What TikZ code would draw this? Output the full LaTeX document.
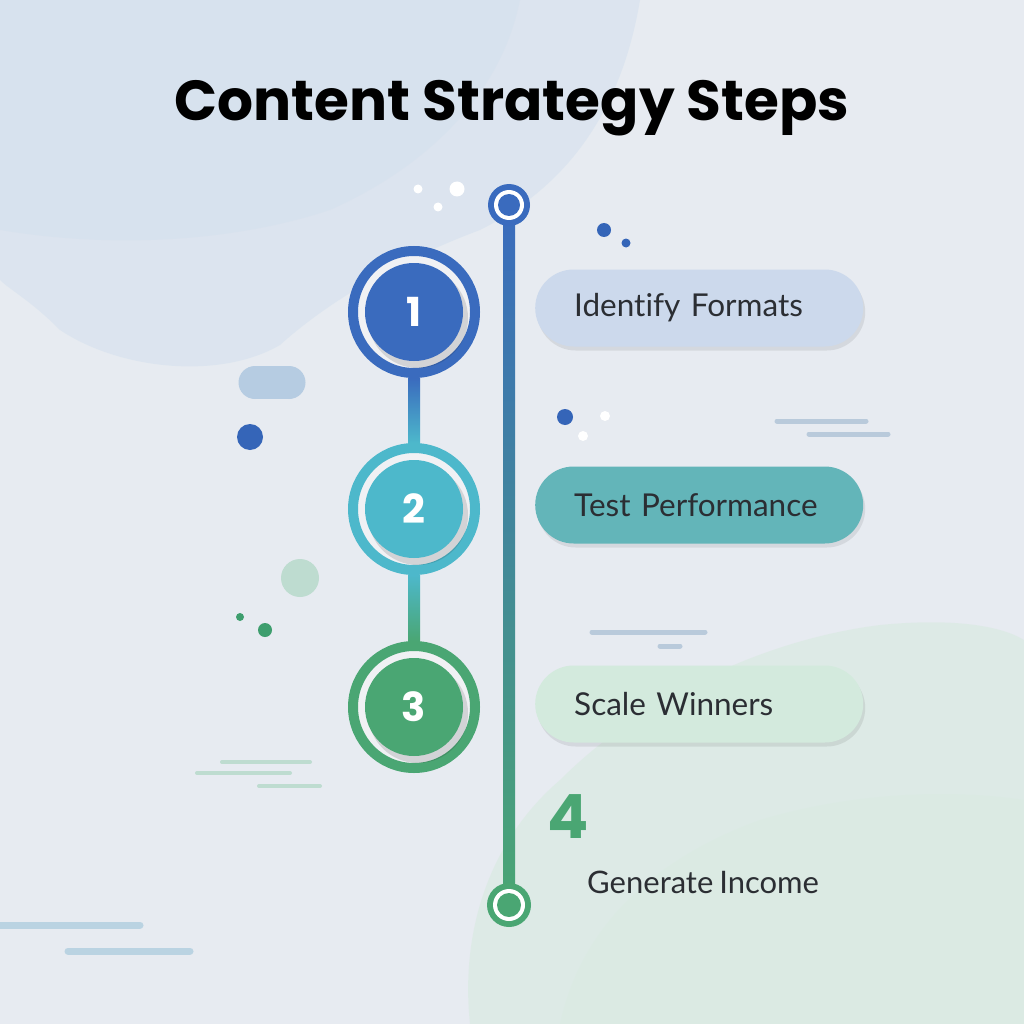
\documentclass[tikz,border=0pt]{standalone}
\usepackage{fontspec}
\setmainfont{Lato}[Ligatures=NoCommon, WordSpace=0.75]
\newfontfamily\popfont{Poppins}
\usetikzlibrary{shadows}
\definecolor{bg}{HTML}{E7EBF1}
\definecolor{bluewash}{HTML}{D3E0EE}
\definecolor{greenwash}{HTML}{DAEAE2}
\definecolor{cA}{HTML}{3A6BBE}
\definecolor{cB}{HTML}{4DB8CB}
\definecolor{cC}{HTML}{4AA673}
\definecolor{lineMid}{HTML}{52AACB}
\definecolor{pA}{HTML}{CCD9EC}
\definecolor{pB}{HTML}{63B5B9}
\definecolor{pC}{HTML}{D3EADD}
\definecolor{txt}{HTML}{2B2E33}
\definecolor{ringfill}{HTML}{F0F1F4}
\definecolor{decoblue}{HTML}{B6CCE2}
\definecolor{decoline}{HTML}{B9CADB}
\definecolor{decogreen}{HTML}{BEDCD0}
\definecolor{dotgreen}{HTML}{3E9E6E}
\definecolor{dotblue}{HTML}{3565B8}
\definecolor{bottomline}{HTML}{BAD3E2}
\tikzset{
  ringnode/.style={circle, minimum size=122pt, line width=10pt, fill=ringfill, inner sep=0pt},
  discnode/.style={circle, minimum size=98pt, inner sep=0pt, text=white, font=\popfont\bfseries\fontsize{40}{40}\selectfont},
  pillnode/.style={anchor=west, align=left, text width=250pt, inner xsep=39pt, minimum height=77pt, rounded corners=38.5pt, text=txt, font=\fontsize{31.5}{34}\selectfont,
    drop shadow={shadow xshift=2pt, shadow yshift=-4pt, opacity=0.08, fill=black}},
  decostroke/.style={line width=5pt, line cap=round},
}
\begin{document}
\begin{tikzpicture}[x=1pt,y=-1pt]
\useasboundingbox (0,0) rectangle (1024,1024);
% background
\fill[bg] (0,0) rectangle (1024,1024);
\fill[bluewash, opacity=0.55] (0,0) -- (640,0) .. controls (620,120) and (560,190) .. (480,230)
  .. controls (400,260) and (330,300) .. (280,345) .. controls (220,380) and (120,370) .. (60,330)
  .. controls (30,300) and (10,290) .. (0,280) -- cycle;
\fill[bluewash, opacity=0.45] (0,0) -- (520,0) .. controls (500,100) and (420,170) .. (330,210)
  .. controls (240,240) and (120,250) .. (0,230) -- cycle;
\fill[greenwash, opacity=0.7] (1024,1024) -- (470,1024) .. controls (460,930) and (490,840) .. (560,780)
  .. controls (640,700) and (760,640) .. (880,625) .. controls (950,618) and (1000,625) .. (1024,640) -- cycle;
\fill[greenwash, opacity=0.6] (1024,1024) -- (560,1024) .. controls (580,930) and (650,860) .. (760,820)
  .. controls (860,790) and (960,790) .. (1024,800) -- cycle;

% title
\node[font=\popfont\bfseries\fontsize{56.5}{60}\selectfont, text=black] (title) at (512,108) {Content Strategy Steps};

% decorations
\fill[white] (418,189) circle (4.5);
\fill[white] (457,189) circle (7.5);
\fill[white] (438,207) circle (4.5);
\fill[dotblue] (604,230) circle (7);
\fill[dotblue] (626,243) circle (4.5);
\fill[decoblue] (255,366) rectangle (289,399);
\fill[decoblue] (255,382.5) circle (16.5);
\fill[decoblue] (289,382.5) circle (16.5);
\fill[dotblue] (250,437) circle (13);
\fill[decogreen] (300,578) circle (19);
\fill[dotgreen] (240,617) circle (4);
\fill[dotgreen] (265,630) circle (7);
\fill[dotblue] (565,417) circle (8);
\fill[white] (605,416) circle (5);
\fill[white] (583,436) circle (5);
\draw[decostroke, decoline] (777,421) -- (866,421);
\draw[decostroke, decoline] (809,434) -- (888,434);
\draw[decostroke, decoline] (592,632) -- (705,632);
\draw[decostroke, decoline] (660,646) -- (680,646);
\draw[decostroke, decogreen, line width=4pt] (222,762) -- (310,762);
\draw[decostroke, decogreen, line width=4pt] (197,773) -- (290,773);
\draw[decostroke, decogreen, line width=4pt] (259,786) -- (320,786);
\draw[decostroke, bottomline, line width=7pt] (0,925) -- (140,925);
\draw[decostroke, bottomline, line width=7pt] (68,951) -- (190,951);

% main timeline
\coordinate (top) at (509,205);
\coordinate (bot) at (509,905);
\shade[top color=cA, middle color=lineMid, bottom color=cC] ([xshift=-6pt]top) rectangle ([xshift=6pt]bot);
\node[circle, fill=cA, minimum size=42pt, inner sep=0pt] (tA) at (top) {};
\node[circle, fill=white, minimum size=30pt, inner sep=0pt] (tB) at (top) {};
\node[circle, fill=cA, minimum size=22pt, inner sep=0pt] (tC) at (top) {};
\node[circle, fill=cC, minimum size=44pt, inner sep=0pt] (bA) at (bot) {};
\node[circle, fill=white, minimum size=32pt, inner sep=0pt] (bB) at (bot) {};
\node[circle, fill=cC, minimum size=24pt, inner sep=0pt] (bC) at (bot) {};

% step rings
\node[ringnode, draw=cA] (r1) at (414,312) {};
\node[ringnode, draw=cB] (r2) at (414,509) {};
\node[ringnode, draw=cC] (r3) at (414,707) {};
\shade[top color=cA, bottom color=cB] ([xshift=-6pt]r1.south) rectangle ([xshift=6pt]r2.north);
\shade[top color=cB, bottom color=cC] ([xshift=-6pt]r2.south) rectangle ([xshift=6pt]r3.north);
\fill[black, opacity=0.12] (418,318) circle (50);
\fill[black, opacity=0.12] (418,515) circle (50);
\fill[black, opacity=0.12] (418,713) circle (50);
\node[discnode, fill=cA] (d1) at (414,312) {1};
\node[discnode, fill=cB] (d2) at (414,509) {2};
\node[discnode, fill=cC] (d3) at (414,707) {3};

% pills
\node[pillnode, fill=pA] (p1) at (535,308) {Identify Formats};
\node[pillnode, fill=pB] (p2) at (535,505) {Test Performance};
\node[pillnode, fill=pC] (p3) at (535,704) {Scale Winners};

% step 4
\node[font=\popfont\bfseries\fontsize{61}{61}\selectfont, text=cC] (four) at (568,817) {4};
\node[anchor=west, text=txt, font=\fontsize{31}{34}\selectfont, inner sep=0pt] (g4) at (587,882) {Generate Income};
\end{tikzpicture}
\end{document}
